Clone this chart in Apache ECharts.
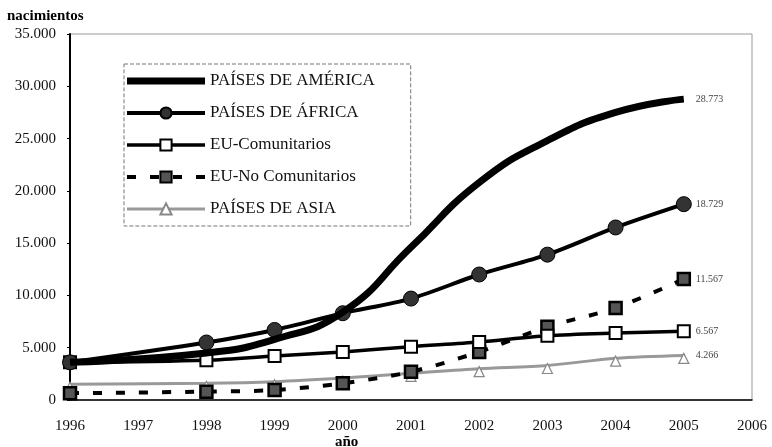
<!DOCTYPE html>
<html>
<head>
<meta charset="utf-8">
<script src="https://cdn.jsdelivr.net/npm/echarts@6/dist/echarts.min.js"></script>
<style>
  html, body { margin: 0; padding: 0; background: #fff; }
  #chart { width: 772px; height: 447px; }
</style>
</head>
<body>
<div id="chart"></div>
<script>
  // datos
  const years = [1996, 1998, 1999, 2000, 2001, 2002, 2003, 2004, 2005]
  const america = [3600, 4500, 5800, 8400, 14600, 20800, 24800, 27500, 28773]
  const africa = [3600, 5500, 6700, 8300, 9700, 12000, 13900, 16500, 18729]
  const euCom = [3600, 3800, 4200, 4600, 5100, 5550, 6150, 6400, 6567]
  const euNoCom = [650, 800, 950, 1600, 2700, 4600, 7000, 8800, 11567]
  const asia = [1500, 1600, 1750, 2100, 2550, 3000, 3300, 4000, 4266]
  const names = ['PAÍSES DE AMÉRICA', 'PAÍSES DE ÁFRICA', 'EU-Comunitarios', 'EU-No Comunitarios', 'PAÍSES DE ASIA']

  const FONT = '"Liberation Serif", "DejaVu Serif", serif'

  // separador de miles con punto
  const fmt = (v) => String(v).replace(/\B(?=(\d{3})+(?!\d))/g, '.')
  const pairs = (arr) => years.map((y, i) => [y, arr[i]])

  const endLabel = {
    show: true,
    formatter: (p) => fmt(p.value[1]),
    distance: 12,
    fontFamily: FONT,
    fontSize: 10,
    color: '#444'
  }

  const chart = echarts.init(document.getElementById('chart'))

  const options = {
    animation: false,
    backgroundColor: '#fff',
    textStyle: { fontFamily: FONT },
    grid: {
      left: 70,
      right: 20,
      top: 34,
      bottom: 47,
      show: true,
      borderColor: '#999',
      borderWidth: 1
    },
    legend: {
      orient: 'vertical',
      left: 124,
      top: 64,
      padding: [8, 36, 8, 1],
      itemWidth: 78,
      itemHeight: 14,
      itemGap: 14,
      borderColor: '#777',
      borderWidth: 1,
      borderType: 'dashed',
      textStyle: { fontFamily: FONT, fontSize: 17, color: '#111', lineHeight: 18 },
      data: [
        { name: names[0], icon: 'path://M0,0H78V7H0Z', itemStyle: { color: '#000' } },
        { name: names[1], lineStyle: { width: 4 } },
        { name: names[2], lineStyle: { width: 3.5 } },
        { name: names[3], lineStyle: { width: 4 } },
        { name: names[4], lineStyle: { width: 3 } }
      ]
    },
    xAxis: {
      type: 'value',
      min: 1996,
      max: 2006,
      interval: 1,
      splitLine: { show: false },
      axisLine: { lineStyle: { color: '#000', width: 1.5 } },
      axisTick: { show: false },
      axisLabel: {
        formatter: (v) => String(v),
        fontFamily: FONT,
        fontSize: 15,
        color: '#111',
        margin: 19
      }
    },
    yAxis: {
      type: 'value',
      min: 0,
      max: 35000,
      interval: 5000,
      splitLine: { show: false },
      axisLine: { show: true, lineStyle: { color: '#000', width: 2 } },
      axisTick: { show: true, length: 3, lineStyle: { color: '#000' } },
      axisLabel: {
        formatter: fmt,
        fontFamily: FONT,
        fontSize: 15,
        color: '#111',
        margin: 14
      }
    },
    graphic: [
      {
        type: 'text',
        left: 7,
        top: 9,
        style: { text: 'nacimientos', font: 'bold 15px ' + FONT, fill: '#000' }
      },
      {
        type: 'text',
        left: 335,
        top: 435,
        style: { text: 'año', font: 'bold 15px ' + FONT, fill: '#000' }
      }
    ],
    series: [
      {
        name: names[4],
        type: 'line',
        data: pairs(asia),
        smooth: 0.3,
        symbol: 'triangle',
        symbolSize: 10,
        symbolOffset: [0, 3],
        lineStyle: { color: '#999', width: 3 },
        itemStyle: { color: '#fff', borderColor: '#888', borderWidth: 1.2 },
        endLabel: endLabel,
        z: 2
      },
      {
        name: names[3],
        type: 'line',
        data: pairs(euNoCom),
        smooth: 0.3,
        symbol: 'rect',
        symbolSize: 12,
        lineStyle: { color: '#000', width: 4, type: [9, 14] },
        itemStyle: { color: '#555', borderColor: '#000', borderWidth: 2.5 },
        endLabel: endLabel,
        z: 3
      },
      {
        name: names[2],
        type: 'line',
        data: pairs(euCom),
        smooth: 0.3,
        symbol: 'rect',
        symbolSize: 12,
        lineStyle: { color: '#000', width: 3.5 },
        itemStyle: { color: '#fff', borderColor: '#000', borderWidth: 2 },
        endLabel: endLabel,
        z: 4
      },
      {
        name: names[1],
        type: 'line',
        data: pairs(africa),
        smooth: 0.3,
        symbol: 'circle',
        symbolSize: 15,
        lineStyle: { color: '#000', width: 4 },
        itemStyle: { color: '#333', borderColor: '#000', borderWidth: 1 },
        endLabel: endLabel,
        z: 5
      },
      {
        name: names[0],
        type: 'line',
        data: pairs(america),
        smooth: 0.5,
        symbol: 'none',
        lineStyle: { color: '#000', width: 7 },
        itemStyle: { color: '#000' },
        endLabel: endLabel,
        z: 6
      }
    ]
  }

  chart.setOption(options)
</script>
</body>
</html>
